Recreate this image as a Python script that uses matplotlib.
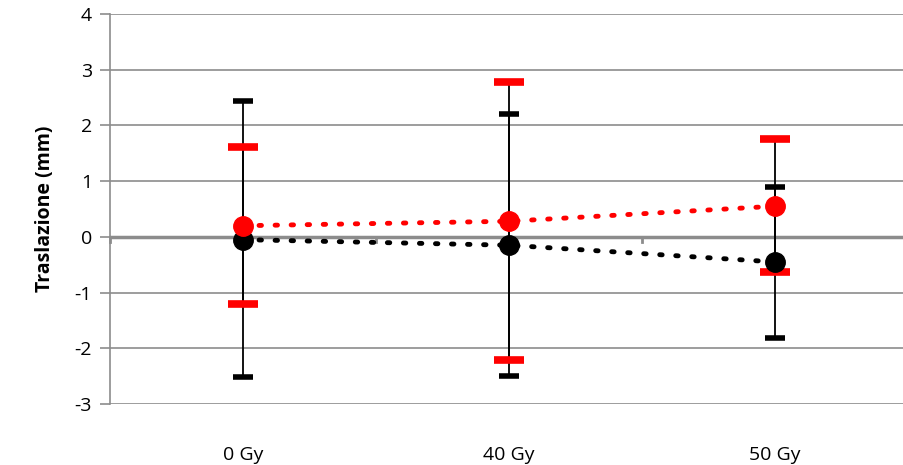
import matplotlib.pyplot as plt

# data
categories = ["0 Gy", "40 Gy", "50 Gy"]
black_mean = [-0.05, -0.15, -0.45]
black_low = [-2.52, -2.49, -1.81]
black_high = [2.43, 2.20, 0.90]
red_mean = [0.20, 0.28, 0.55]
red_low = [-1.20, -2.21, -0.63]
red_high = [1.62, 2.78, 1.75]

plt.rcParams['font.family'] = ['Open Sans', 'DejaVu Sans']
plt.rcParams['axes.unicode_minus'] = False

fig = plt.figure(figsize=(9.04, 4.65), dpi=100)
ax = fig.add_axes([110 / 904, 61 / 465, 798 / 904, 390 / 465])

xs = list(range(len(categories)))

# grid
ax.set_ylim(-3, 4)
ax.set_xlim(-0.5, len(categories) - 0.5)
ax.set_yticks(range(-3, 5))
ax.grid(axis='y', color='#8c8c8c', linewidth=1.2, zorder=0)
ax.axhline(0, color='#8c8c8c', linewidth=2.5, zorder=1)
for b in [-0.5, 0.5, 1.5]:
    ax.plot([b, b], [0, -0.1], color='#8c8c8c', linewidth=2, zorder=1, clip_on=False)

# error bar lines (black for both series)
ax.vlines(xs, black_low, black_high, color='black', linewidth=1.3, zorder=3)
ax.vlines(xs, red_low, red_high, color='black', linewidth=1.3, zorder=3)

# caps
ax.plot(xs, black_high, linestyle='none', marker='_', markersize=15, markeredgewidth=4, color='black', zorder=4)
ax.plot(xs, black_low, linestyle='none', marker='_', markersize=15, markeredgewidth=4, color='black', zorder=4)
ax.plot(xs, red_high, linestyle='none', marker='_', markersize=22, markeredgewidth=5.5, color='red', zorder=5)
ax.plot(xs, red_low, linestyle='none', marker='_', markersize=22, markeredgewidth=5.5, color='red', zorder=5)

# series
ax.plot(xs, black_mean, linestyle=(0, (0.5, 2.8)), dash_capstyle='round', linewidth=3.5,
        color='black', marker='o', markersize=14, zorder=6)
ax.plot(xs, red_mean, linestyle=(0, (0.5, 2.8)), dash_capstyle='round', linewidth=3.5,
        color='red', marker='o', markersize=14, zorder=6)

# axes styling
for s in ['top', 'right', 'bottom']:
    ax.spines[s].set_visible(False)
ax.spines['left'].set_color('#8c8c8c')
ax.spines['left'].set_linewidth(1.2)
ax.tick_params(axis='y', colors='#8c8c8c', length=7, width=1.2, labelsize=14, labelcolor='black', pad=6)
ax.set_xticks(xs)
ax.set_xticklabels(categories)
ax.tick_params(axis='x', length=0, labelsize=14, pad=30)
ax.set_ylabel("Traslazione (mm)", fontsize=14, fontweight='bold', labelpad=14)

fig.savefig("out.png", dpi=100)
